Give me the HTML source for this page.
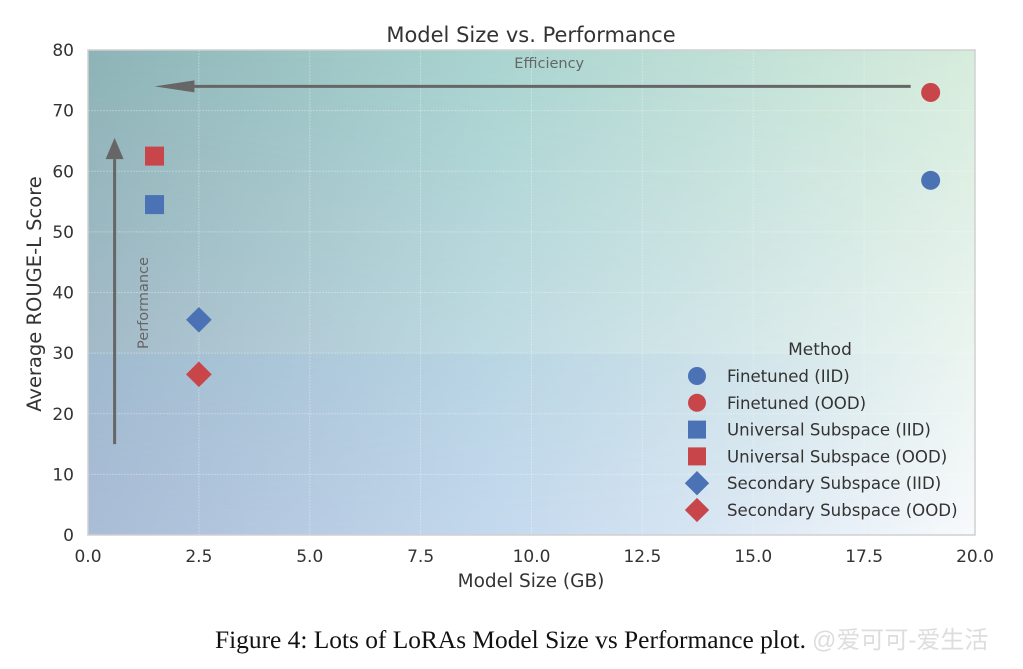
<!DOCTYPE html>
<html><head><meta charset="utf-8"><style>
body{margin:0;background:#fff;width:1023px;height:664px;overflow:hidden;font-family:"Liberation Sans","DejaVu Sans",sans-serif}
</style></head><body>
<svg id="chart" width="1023" height="664" xmlns="http://www.w3.org/2000/svg" style="font-family:'DejaVu Sans','Liberation Sans',sans-serif">
<defs>
<linearGradient id="gTop" x1="0" y1="0" x2="1" y2="0">
<stop offset="0" stop-color="#8db3b6"/><stop offset="0.45" stop-color="#a8d3cf"/><stop offset="1" stop-color="#d6ecdc"/></linearGradient>
<linearGradient id="gBot" x1="0" y1="0" x2="1" y2="0">
<stop offset="0" stop-color="#b2bfd3"/><stop offset="0.45" stop-color="#cddfef"/><stop offset="1" stop-color="#f8fafc"/></linearGradient>
<linearGradient id="gFade" x1="0" y1="0" x2="0" y2="1">
<stop offset="0" stop-color="#fff" stop-opacity="1"/><stop offset="1" stop-color="#fff" stop-opacity="0"/></linearGradient>
<linearGradient id="gBand" x1="0" y1="0" x2="1" y2="0">
<stop offset="0" stop-color="#8cb4e6" stop-opacity="0.2"/><stop offset="0.6" stop-color="#8cb4e6" stop-opacity="0.12"/><stop offset="1" stop-color="#8cb4e6" stop-opacity="0"/></linearGradient>
<mask id="mFade"><rect x="88" y="50" width="887" height="485" fill="url(#gFade)"/></mask>
</defs>
<g id="plot"></g>
<text x="215" y="648" font-family="'Liberation Serif',serif" font-size="25.4" fill="#111">Figure 4: Lots of LoRAs Model Size vs Performance plot.</text>
<text x="812" y="648" font-family="'Liberation Sans','Noto Sans CJK SC',sans-serif" font-size="24" fill="#ddd">@爱可可-爱生活</text>
</svg>
<script>
const xTicks=[0,2.5,5,7.5,10,12.5,15,17.5,20];
const xTickLabels=["0.0","2.5","5.0","7.5","10.0","12.5","15.0","17.5","20.0"];
const yTicks=[0,10,20,30,40,50,60,70,80];
const methods=["Finetuned (IID)","Finetuned (OOD)","Universal Subspace (IID)","Universal Subspace (OOD)","Secondary Subspace (IID)","Secondary Subspace (OOD)"];
const sizes=[19,19,1.5,1.5,2.5,2.5];
const scores=[58.5,73,54.5,62.5,35.5,26.5];
const shapes=["circle","circle","square","square","diamond","diamond"];
const colors=["#4a72b5","#c8454a","#4a72b5","#c8454a","#4a72b5","#c8454a"];
const NS="http://www.w3.org/2000/svg";
const X0=88,X1=975,Y0=535,Y1=50;
const sx=v=>X0+(v-0)/(20-0)*(X1-X0);
const sy=v=>Y0-(v-0)/(80-0)*(Y0-Y1);
const g=document.getElementById('plot');
function mk(t,a,p){const e=document.createElementNS(NS,t);for(const k in a)e.setAttribute(k,a[k]);(p||g).appendChild(e);return e;}
let e;
e=mk('rect',{x:X0,y:Y1,width:X1-X0,height:Y0-Y1,fill:'url(#gBot)'});


e=mk('rect',{x:X0,y:Y1,width:X1-X0,height:Y0-Y1,fill:'url(#gTop)',mask:'url(#mFade)'});


e=mk('rect',{x:X0,y:sy(30),width:X1-X0,height:Y0-sy(30),fill:'url(#gBand)'});


xTicks.forEach((t,i)=>{
 e=mk('line',{x1:sx(t),x2:sx(t),y1:Y1,y2:Y0,stroke:'#fff',"stroke-opacity":0.3,"stroke-dasharray":'2,1'});
 
 
 e=mk('text',{x:sx(t),y:Y0+27,"text-anchor":'middle',"font-size":17,fill:'#333'});
 e.textContent=xTickLabels[i];
 
 
});
yTicks.forEach(t=>{
 e=mk('line',{x1:X0,x2:X1,y1:sy(t),y2:sy(t),stroke:'#fff',"stroke-opacity":0.3,"stroke-dasharray":'2,1'});
 
 
 e=mk('text',{x:X0-14,y:sy(t)+6,"text-anchor":'end',"font-size":17,fill:'#333'});
 e.textContent=String(t);
 
 
});
e=mk('rect',{x:X0,y:Y1,width:X1-X0,height:Y0-Y1,fill:'none',stroke:'#d0d0d0',"stroke-width":1.5});


e=mk('line',{x1:sx(18.55),x2:sx(2.4),y1:sy(74),y2:sy(74),stroke:'#666',"stroke-width":3});


e=mk('polygon',{points:`${sx(1.5)},${sy(74)} ${sx(2.4)},${sy(74)-6} ${sx(2.4)},${sy(74)+6}`,fill:'#666'});


e=mk('text',{x:sx(10.4),y:68,"text-anchor":'middle',"font-size":14.5,fill:'#666'});
e.textContent='Efficiency';


e=mk('line',{x1:sx(0.6),x2:sx(0.6),y1:sy(15),y2:sy(62),stroke:'#666',"stroke-width":3});


e=mk('polygon',{points:`${sx(0.6)},${sy(65.5)} ${sx(0.6)-9},${sy(62)} ${sx(0.6)+9},${sy(62)}`,fill:'#666'});


e=mk('text',{x:0,y:0,transform:`translate(148,303) rotate(-90)`,"text-anchor":'middle',"font-size":14.5,fill:'#666'});
e.textContent='Performance';


function marker(shape,cx,cy,col,r){
 if(shape==='circle')return mk('circle',{cx,cy,r:r,fill:col});
 if(shape==='square')return mk('rect',{x:cx-r,y:cy-r,width:2*r,height:2*r,fill:col});
 const d=r*1.35;return mk('polygon',{points:`${cx},${cy-d} ${cx+d},${cy} ${cx},${cy+d} ${cx-d},${cy}`,fill:col});
}
sizes.forEach((s,i)=>{
 e=marker(shapes[i],sx(s),sy(scores[i]),colors[i],9.5);
 
 
});
e=mk('text',{x:820,y:355,"text-anchor":'middle',"font-size":17,fill:'#333'});
e.textContent='Method';


methods.forEach((m,i)=>{
 const y=376+i*26.8;
 e=marker(shapes[i],697,y,colors[i],9);
 
 
 e=mk('text',{x:727,y:y+6,"font-size":16.6,fill:'#333'});
 e.textContent=m;
 
 
});
e=mk('text',{x:531,y:42,"text-anchor":'middle',"font-size":21,fill:'#333'});
e.textContent='Model Size vs. Performance';


e=mk('text',{x:531,y:587,"text-anchor":'middle',"font-size":18.5,fill:'#333'});
e.textContent='Model Size (GB)';


e=mk('text',{x:0,y:0,transform:'translate(41,294) rotate(-90)',"text-anchor":'middle',"font-size":19.5,fill:'#333'});
e.textContent='Average ROUGE-L Score';


</script>
</body></html>
